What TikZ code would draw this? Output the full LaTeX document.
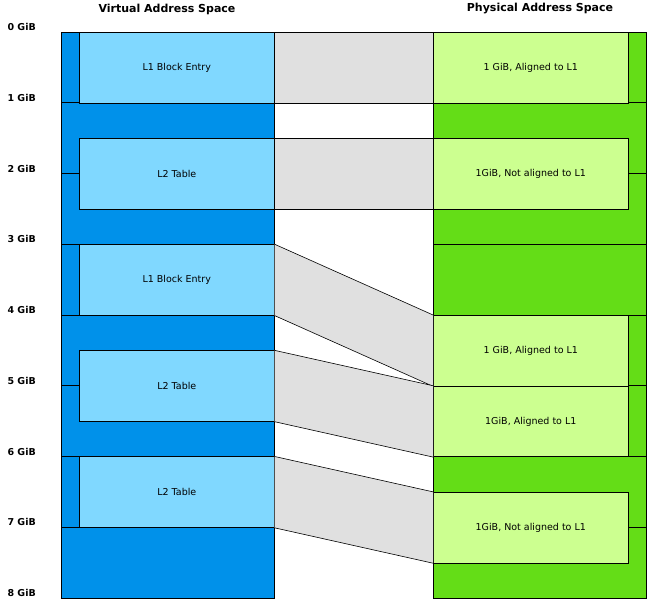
\documentclass[tikz,border=0pt]{standalone}
\usepackage{fontspec}
\setmainfont{DejaVu Sans}
\usetikzlibrary{positioning}
\definecolor{vblue}{RGB}{0,145,234}
\definecolor{vlight}{RGB}{128,216,255}
\definecolor{pgreen}{RGB}{100,221,23}
\definecolor{plight}{RGB}{204,255,144}
\definecolor{mapgray}{RGB}{224,224,224}
\tikzset{every node/.style={font=\fontsize{9.5}{11}\selectfont}}

\begin{document}
\begin{tikzpicture}[x=1pt,y=-70.75pt]
  \tikzstyle{vouter} = [draw, semithick, fill=vblue]
  \tikzstyle{pouter} = [draw, semithick, fill=pgreen]
  \tikzstyle{vbox} = [draw, semithick, fill=vlight, rectangle, anchor=north west, minimum width=195pt, minimum height=70.75pt, inner sep=0pt]
  \tikzstyle{pbox} = [draw, semithick, fill=plight, rectangle, anchor=north west, minimum width=195pt, minimum height=70.75pt, inner sep=0pt]
  \tikzstyle{gib} = [anchor=west, font=\fontsize{9.5}{11}\bfseries\selectfont]

  \useasboundingbox (0,-0.452) rectangle (656,8.057);

  % headings
  \node[font=\fontsize{11}{13}\bfseries\selectfont] (vtitle) at (167,-0.325) {Virtual Address Space};
  \node[font=\fontsize{11}{13}\bfseries\selectfont] (ptitle) at (540,-0.325) {Physical Address Space};
  \foreach \g in {0,...,8}
    \node[gib] (g\g) at (4,\g-0.07) {\g\ GiB};

  % outer regions
  \foreach \a/\b in {0/1,1/3,3/4,4/6,6/8} {
    \draw[vouter] (61,\a) rectangle (274,\b);
    \draw[pouter] (433,\a) rectangle (646,\b);
  }
  \foreach \g in {1,...,7} {
    \draw[semithick] (61,\g) -- (79,\g);
    \draw[semithick] (628,\g) -- (646,\g);
  }

  % virtual blocks
  \node[vbox] (v1) at (79,0) {L1 Block Entry};
  \node[vbox] (v2) at (79,1.5) {L2 Table};
  \node[vbox] (v3) at (79,3) {L1 Block Entry};
  \node[vbox] (v4) at (79,4.5) {L2 Table};
  \node[vbox] (v5) at (79,6) {L2 Table};

  % physical blocks
  \node[pbox] (p1) at (433,0) {1 GiB, Aligned to L1};
  \node[pbox] (p2) at (433,1.5) {1GiB, Not aligned to L1};
  \node[pbox] (p3) at (433,4) {1 GiB, Aligned to L1};
  \node[pbox] (p4) at (433,5) {1GiB, Aligned to L1};
  \node[pbox] (p5) at (433,6.5) {1GiB, Not aligned to L1};

  % mappings
  \foreach \i in {1,...,5} {
    \fill[mapgray] (v\i.north east) -- (p\i.north west) -- (p\i.south west) -- (v\i.south east) -- cycle;
    \draw[semithick] (v\i.north east) -- (p\i.north west);
    \draw[semithick] (v\i.south east) -- (p\i.south west);
  }
\end{tikzpicture}
\end{document}
